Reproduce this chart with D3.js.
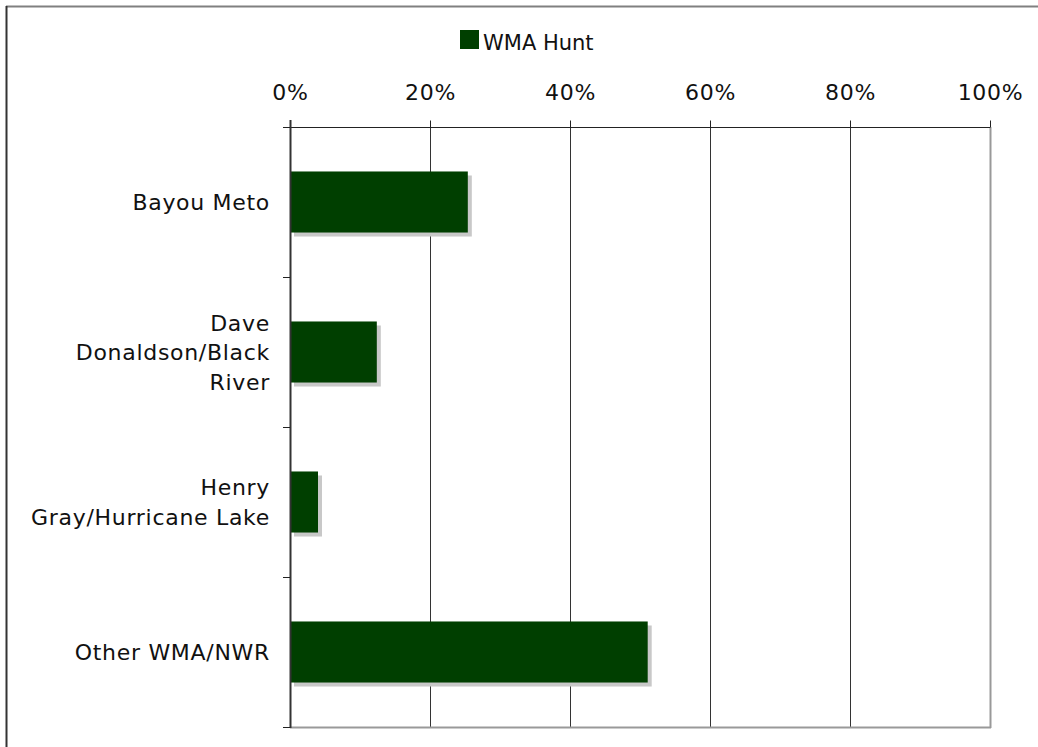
<!DOCTYPE html>
<html>
<head>
<meta charset="utf-8">
<script src="https://cdn.jsdelivr.net/npm/d3@7"></script>
<style>
  body { margin: 0; background: #fff; }
  text { font-family: "DejaVu Sans", Verdana, sans-serif; font-size: 22px; letter-spacing: 0.7px; fill: #111; }
</style>
</head>
<body>
<script>
var categories = ["Bayou Meto", "Dave Donaldson/Black River", "Henry Gray/Hurricane Lake", "Other WMA/NWR"];
var labelLines = [["Bayou Meto"], ["Dave", "Donaldson/Black", "River"], ["Henry", "Gray/Hurricane Lake"], ["Other WMA/NWR"]];
var wmaHunt = [0.254, 0.124, 0.04, 0.511];
var tickValues = [0, 0.2, 0.4, 0.6, 0.8, 1];
var seriesName = "WMA Hunt";

var width = 1038,
    height = 747;

var svg = d3.select("body").append("svg")
    .attr("width", width)
    .attr("height", height);

// outer frame (right/bottom fall off the page)
svg.append("line").attr("x1", 6).attr("x2", width).attr("y1", 6.5).attr("y2", 6.5)
  .attr("stroke", "#808080").attr("stroke-width", 2);
svg.append("line").attr("x1", 6.5).attr("x2", 6.5).attr("y1", 6).attr("y2", height)
  .attr("stroke", "#333").attr("stroke-width", 2);

var x = d3.scaleLinear().domain([0, 1]).range([290, 990]);
var y = d3.scaleBand().domain(categories).range([127, 727])
    .paddingInner(0.593).paddingOuter(0.2965);

var g = svg.append("g");

// gridlines
g.selectAll(".grid")
  .data(tickValues.slice(1, -1))
  .enter().append("line")
  .attr("x1", function(d){ return Math.round(x(d)) + 0.5; })
  .attr("x2", function(d){ return Math.round(x(d)) + 0.5; })
  .attr("y1", 127).attr("y2", 727)
  .attr("stroke", "#333");

// plot border right + bottom
g.append("line").attr("x1", 990.5).attr("x2", 990.5).attr("y1", 127).attr("y2", 728)
  .attr("stroke", "#999").attr("stroke-width", 2);
g.append("line").attr("x1", 290).attr("x2", 991).attr("y1", 727.5).attr("y2", 727.5)
  .attr("stroke", "#999").attr("stroke-width", 2);

// bar shadows
g.selectAll(".shadow")
  .data(wmaHunt)
  .enter().append("rect")
  .attr("x", x(0) + 4)
  .attr("y", function(d, i){ return y(categories[i]) + 4; })
  .attr("width", function(d){ return x(d) - x(0); })
  .attr("height", y.bandwidth())
  .attr("fill", "#c8c8c8");

// bars
g.selectAll(".bar")
  .data(wmaHunt)
  .enter().append("rect")
  .attr("x", x(0))
  .attr("y", function(d, i){ return y(categories[i]); })
  .attr("width", function(d){ return x(d) - x(0); })
  .attr("height", y.bandwidth())
  .attr("fill", "#003f00");

// top axis
var xAxis = d3.axisTop(x)
  .tickValues(tickValues)
  .tickSize(7)
  .tickFormat(d3.format(".0%"));

var ax = svg.append("g")
  .attr("transform", "translate(0,127.5)")
  .call(xAxis);
ax.attr("font-size", null).attr("font-family", null);
ax.select(".domain").attr("stroke", "#222").attr("d", "M283,0H990");
ax.selectAll(".tick line").attr("stroke", "#222");
ax.selectAll(".tick text")
  .attr("y", -28)
  .attr("dy", 0)
  .attr("fill", "#111");

// left axis with ticks on band boundaries
svg.append("line").attr("x1", 290.5).attr("x2", 290.5).attr("y1", 120).attr("y2", 728)
  .attr("stroke", "#333").attr("stroke-width", 2);
var bounds = d3.range(categories.length + 1).map(function(i){ return y.range()[0] + i * y.step(); });
svg.selectAll(".ytick")
  .data(bounds)
  .enter().append("line")
  .attr("x1", 283).attr("x2", 290)
  .attr("y1", function(d){ return d + 0.5; })
  .attr("y2", function(d){ return d + 0.5; })
  .attr("stroke", "#222");

// category labels
var lh = 29.5;
var lbl = svg.selectAll(".cat")
  .data(labelLines)
  .enter().append("text")
  .attr("text-anchor", "end")
  .attr("transform", function(d, i){
    var c = y(categories[i]) + y.bandwidth() / 2;
    return "translate(270," + (c + 8 - (d.length - 1) * lh / 2) + ")";
  });
lbl.selectAll("tspan")
  .data(function(d){ return d; })
  .enter().append("tspan")
  .attr("x", 0)
  .attr("y", function(d, i){ return i * lh; })
  .text(function(d){ return d; });

// legend
svg.append("rect").attr("x", 460).attr("y", 30).attr("width", 19).attr("height", 19).attr("fill", "#003f00");
svg.append("text").attr("x", 483).attr("y", 50).style("font-size", "21px").style("letter-spacing", "0px").text(seriesName);
</script>
</body>
</html>
